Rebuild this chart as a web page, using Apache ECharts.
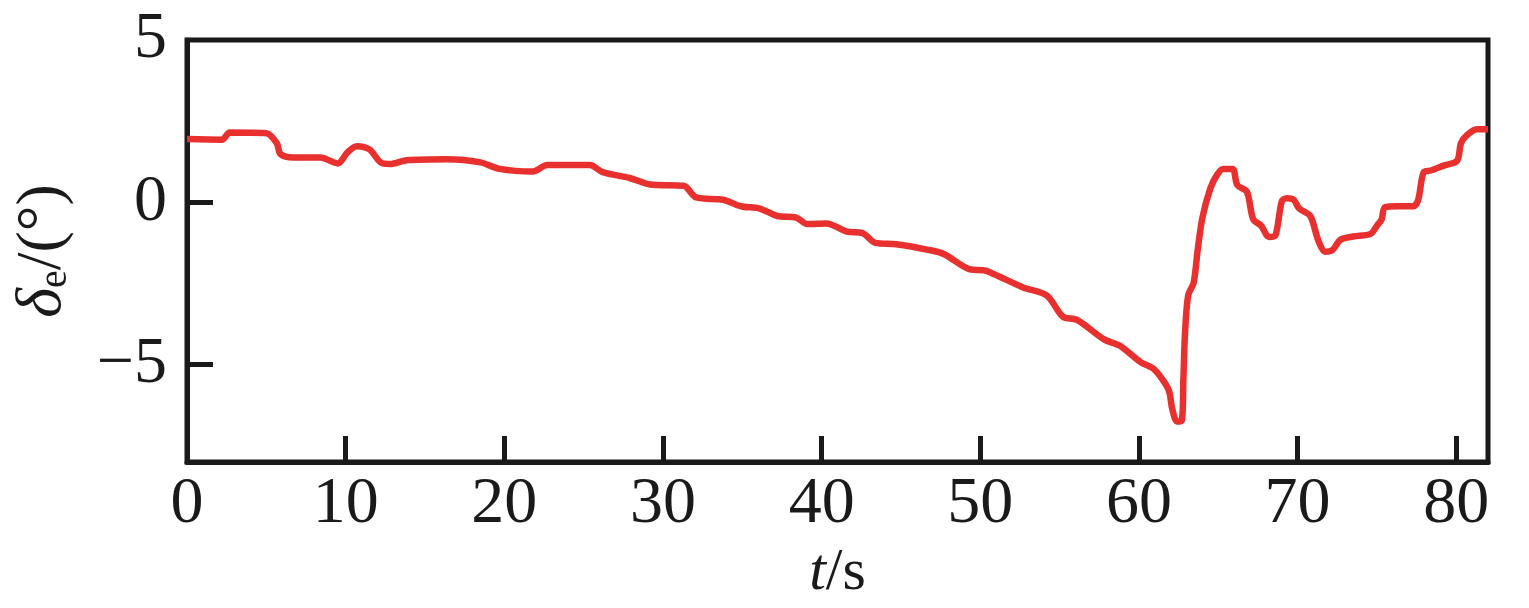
<!DOCTYPE html>
<html>
<head>
<meta charset="utf-8">
<script src="https://cdn.jsdelivr.net/npm/echarts@6/dist/echarts.min.js"></script>
<style>
html,body{margin:0;padding:0;background:#fff;}
#c{width:1529px;height:608px;}
</style>
</head>
<body>
<div id="c"></div>
<script>
// time (s)
var tValues = [0.0, 2.2, 2.7, 5.0, 5.65, 5.9, 6.7, 8.4, 9.5, 10.1, 10.7, 11.5, 12.2, 12.8, 13.85, 16.4, 18.5, 19.7, 21.8, 22.7, 25.0, 25.4, 26.2, 27.9, 29.2, 31.3, 32.1, 33.8, 34.9, 36.1, 37.2, 38.4, 39.1, 40.3, 41.6, 42.6, 43.4, 44.7, 46.8, 47.7, 49.4, 50.2, 50.6, 52.7, 54.2, 55.2, 56.1, 57.8, 58.8, 60.1, 60.9, 61.5, 61.9, 62.1, 62.4, 62.7, 62.8, 62.9, 63.1, 63.45, 63.7, 64.0, 64.5, 64.9, 65.3, 65.9, 66.2, 66.8, 67.2, 67.7, 68.2, 68.6, 69.0, 69.3, 69.75, 70.1, 70.8, 71.3, 71.75, 72.2, 72.7, 73.5, 74.6, 75.0, 75.3, 75.5, 76.3, 77.3, 77.6, 77.95, 78.4, 79.2, 80.05, 80.3, 80.7, 81.3, 82.0];
// elevator deflection δe (°)
var deltaE = [1.95, 1.93, 2.15, 2.13, 1.83, 1.48, 1.38, 1.38, 1.2, 1.53, 1.73, 1.63, 1.23, 1.18, 1.3, 1.33, 1.23, 1.03, 0.95, 1.15, 1.15, 1.15, 0.93, 0.75, 0.55, 0.51, 0.15, 0.08, -0.12, -0.19, -0.42, -0.47, -0.67, -0.65, -0.9, -0.95, -1.25, -1.29, -1.47, -1.59, -2.07, -2.09, -2.15, -2.62, -2.87, -3.52, -3.62, -4.22, -4.42, -4.92, -5.12, -5.47, -5.82, -6.37, -6.75, -6.72, -5.47, -4.07, -2.87, -2.47, -1.47, -0.47, 0.43, 0.83, 1.03, 1.03, 0.53, 0.33, -0.52, -0.72, -1.07, -1.02, 0.03, 0.13, 0.08, -0.19, -0.42, -1.17, -1.52, -1.47, -1.15, -1.05, -0.97, -0.72, -0.52, -0.15, -0.12, -0.12, 0.08, 0.93, 0.98, 1.13, 1.28, 1.83, 2.08, 2.25, 2.25];
var xTicks = [0, 10, 20, 30, 40, 50, 60, 70, 80];
var yTicks = [-5, 0, 5];

var data = tValues.map(function (t, i) { return [t, deltaE[i]]; });
var FONT = '"Liberation Serif", "Times New Roman", serif';
var INK = '#1a1a1a';

var chart = echarts.init(document.getElementById('c'), null, {renderer: 'canvas'});
chart.setOption({
  animation: false,
  backgroundColor: '#fff',
  grid: {
    left: 187, right: 41, top: 40, bottom: 142,
    show: true, borderColor: INK, borderWidth: 5, backgroundColor: 'transparent'
  },
  xAxis: {
    type: 'value', min: 0, max: 82,
    name: '{i|t}{n|/s}',
    nameLocation: 'middle', nameGap: 66,
    nameTextStyle: {
      rich: {
        i: {fontFamily: FONT, fontSize: 60, fontStyle: 'italic', color: INK},
        n: {fontFamily: FONT, fontSize: 60, color: INK}
      }
    },
    axisLine: {show: true, onZero: false, lineStyle: {color: INK, width: 5}},
    axisTick: {show: true, inside: true, length: 26, lineStyle: {color: INK, width: 5}, customValues: xTicks},
    axisLabel: {fontFamily: FONT, fontSize: 66, color: INK, margin: 10, customValues: xTicks, formatter: function(v){return String(v);}},
    splitLine: {show: false}
  },
  yAxis: {
    type: 'value', min: -8, max: 5,
    name: '{i|δ}{sub|e}{n|/(°)}',
    nameLocation: 'middle', nameGap: 112, nameRotate: 90,
    nameTextStyle: {
      rich: {
        i: {fontFamily: FONT, fontSize: 64, fontStyle: 'italic', color: INK},
        sub: {fontFamily: FONT, fontSize: 40, color: INK, verticalAlign: 'bottom', padding: [24, 0, 0, 0]},
        n: {fontFamily: FONT, fontSize: 64, color: INK}
      }
    },
    axisLine: {show: true, onZero: false, lineStyle: {color: INK, width: 5}},
    axisTick: {show: true, inside: true, length: 26, lineStyle: {color: INK, width: 5}, customValues: [-5, 0]},
    axisLabel: {fontFamily: FONT, fontSize: 66, color: INK, margin: 20, customValues: yTicks,
      formatter: function(v){ return v < 0 ? '\u2212' + Math.abs(v) : String(v); }},
    splitLine: {show: false}
  },
  series: [{
    type: 'line',
    data: data,
    showSymbol: false,
    smooth: 0.3,
    lineStyle: {color: '#e8312f', width: 6.5},
    clip: true
  }]
});
</script>
</body>
</html>
